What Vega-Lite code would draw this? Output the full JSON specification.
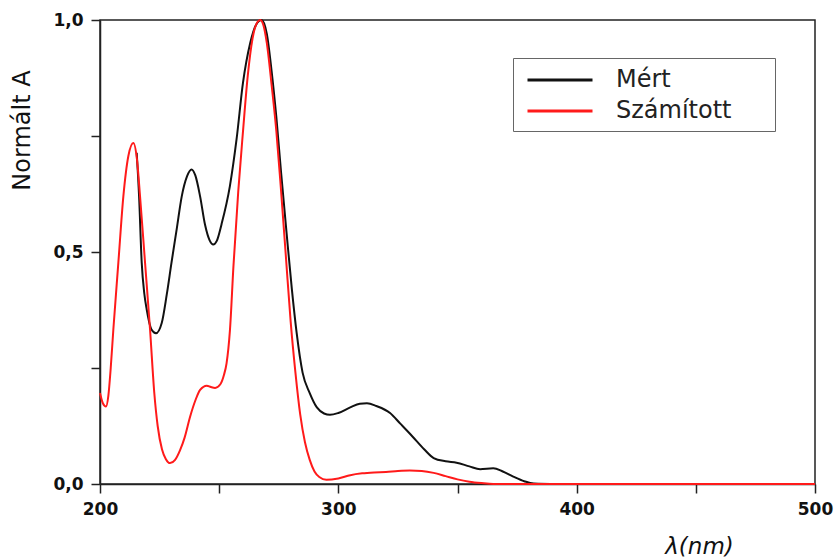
{
  "$schema": "https://vega.github.io/schema/vega-lite/v6.json",
  "width": 715,
  "height": 464,
  "autosize": {"type": "none"},
  "padding": {"left": 100, "top": 20, "right": 20, "bottom": 74},
  "background": "white",
  "config": {"view": {"stroke": "#222222", "strokeWidth": 1.5}, "font": "DejaVu Sans"},
  "data": {
    "values": [
      {"series": "Mért", "nm": 215.4, "A": 0.714},
      {"series": "Mért", "nm": 216.4, "A": 0.62},
      {"series": "Mért", "nm": 217.5, "A": 0.477},
      {"series": "Mért", "nm": 218.6, "A": 0.41},
      {"series": "Mért", "nm": 219.6, "A": 0.376},
      {"series": "Mért", "nm": 221.6, "A": 0.333},
      {"series": "Mért", "nm": 223.5, "A": 0.325},
      {"series": "Mért", "nm": 225.9, "A": 0.347},
      {"series": "Mért", "nm": 228, "A": 0.408},
      {"series": "Mért", "nm": 230, "A": 0.477},
      {"series": "Mért", "nm": 232.2, "A": 0.55},
      {"series": "Mért", "nm": 234.3, "A": 0.62},
      {"series": "Mért", "nm": 236.5, "A": 0.663},
      {"series": "Mért", "nm": 238.4, "A": 0.678},
      {"series": "Mért", "nm": 240, "A": 0.665},
      {"series": "Mért", "nm": 242, "A": 0.62},
      {"series": "Mért", "nm": 244.1, "A": 0.558},
      {"series": "Mért", "nm": 246, "A": 0.525},
      {"series": "Mért", "nm": 247.5, "A": 0.516},
      {"series": "Mért", "nm": 249, "A": 0.524},
      {"series": "Mért", "nm": 251, "A": 0.56},
      {"series": "Mért", "nm": 254.5, "A": 0.642},
      {"series": "Mért", "nm": 257.3, "A": 0.743},
      {"series": "Mért", "nm": 260, "A": 0.865},
      {"series": "Mért", "nm": 263, "A": 0.95},
      {"series": "Mért", "nm": 265.5, "A": 0.99},
      {"series": "Mért", "nm": 267.8, "A": 1.0},
      {"series": "Mért", "nm": 270, "A": 0.97},
      {"series": "Mért", "nm": 272, "A": 0.89},
      {"series": "Mért", "nm": 274, "A": 0.79},
      {"series": "Mért", "nm": 276, "A": 0.67},
      {"series": "Mért", "nm": 278.3, "A": 0.54},
      {"series": "Mért", "nm": 280.5, "A": 0.42},
      {"series": "Mért", "nm": 282.5, "A": 0.326},
      {"series": "Mért", "nm": 285, "A": 0.24},
      {"series": "Mért", "nm": 288, "A": 0.196},
      {"series": "Mért", "nm": 291, "A": 0.165},
      {"series": "Mért", "nm": 294, "A": 0.152},
      {"series": "Mért", "nm": 296.5, "A": 0.149},
      {"series": "Mért", "nm": 300, "A": 0.153},
      {"series": "Mért", "nm": 305, "A": 0.165},
      {"series": "Mért", "nm": 309, "A": 0.173},
      {"series": "Mért", "nm": 312, "A": 0.174},
      {"series": "Mért", "nm": 316, "A": 0.168},
      {"series": "Mért", "nm": 321.7, "A": 0.153},
      {"series": "Mért", "nm": 326, "A": 0.13},
      {"series": "Mért", "nm": 331, "A": 0.103},
      {"series": "Mért", "nm": 336, "A": 0.075},
      {"series": "Mért", "nm": 340, "A": 0.056},
      {"series": "Mért", "nm": 345, "A": 0.049},
      {"series": "Mért", "nm": 349.6, "A": 0.046},
      {"series": "Mért", "nm": 355, "A": 0.038},
      {"series": "Mért", "nm": 359.5, "A": 0.032},
      {"series": "Mért", "nm": 365, "A": 0.034},
      {"series": "Mért", "nm": 369, "A": 0.027},
      {"series": "Mért", "nm": 373.4, "A": 0.016},
      {"series": "Mért", "nm": 378, "A": 0.006},
      {"series": "Mért", "nm": 382, "A": 0.001},
      {"series": "Mért", "nm": 392, "A": 0.0},
      {"series": "Számított", "nm": 200, "A": 0.196},
      {"series": "Számított", "nm": 201.2, "A": 0.174},
      {"series": "Számított", "nm": 202.5, "A": 0.167},
      {"series": "Számított", "nm": 203.5, "A": 0.19},
      {"series": "Számított", "nm": 204.5, "A": 0.25},
      {"series": "Számított", "nm": 205.6, "A": 0.333},
      {"series": "Számított", "nm": 207.7, "A": 0.477},
      {"series": "Számított", "nm": 209.8, "A": 0.62},
      {"series": "Számított", "nm": 211.9, "A": 0.707},
      {"series": "Számított", "nm": 214, "A": 0.735},
      {"series": "Számított", "nm": 215.5, "A": 0.7},
      {"series": "Számított", "nm": 216.8, "A": 0.62},
      {"series": "Számított", "nm": 218.9, "A": 0.477},
      {"series": "Számított", "nm": 221, "A": 0.333},
      {"series": "Számított", "nm": 222.8, "A": 0.195},
      {"series": "Számított", "nm": 224.2, "A": 0.125},
      {"series": "Számított", "nm": 226, "A": 0.075},
      {"series": "Számított", "nm": 227.6, "A": 0.054},
      {"series": "Számított", "nm": 229.4, "A": 0.045},
      {"series": "Számított", "nm": 231.5, "A": 0.052},
      {"series": "Számított", "nm": 233.6, "A": 0.073},
      {"series": "Számított", "nm": 235.5, "A": 0.1},
      {"series": "Számított", "nm": 237.8, "A": 0.145},
      {"series": "Számított", "nm": 240, "A": 0.18},
      {"series": "Számított", "nm": 242, "A": 0.203},
      {"series": "Számított", "nm": 244.8, "A": 0.212},
      {"series": "Számított", "nm": 246.5, "A": 0.209},
      {"series": "Számított", "nm": 248.3, "A": 0.207},
      {"series": "Számított", "nm": 250.5, "A": 0.215},
      {"series": "Számított", "nm": 252, "A": 0.235},
      {"series": "Számított", "nm": 253.1, "A": 0.26},
      {"series": "Számított", "nm": 254.5, "A": 0.33},
      {"series": "Számított", "nm": 256, "A": 0.47},
      {"series": "Számított", "nm": 258, "A": 0.63},
      {"series": "Számított", "nm": 260, "A": 0.76},
      {"series": "Számított", "nm": 262, "A": 0.88},
      {"series": "Számított", "nm": 264, "A": 0.96},
      {"series": "Számított", "nm": 266, "A": 0.995},
      {"series": "Számított", "nm": 267.2, "A": 1.0},
      {"series": "Számított", "nm": 268.5, "A": 0.99},
      {"series": "Számított", "nm": 270, "A": 0.95},
      {"series": "Számított", "nm": 272, "A": 0.86},
      {"series": "Számított", "nm": 274, "A": 0.76},
      {"series": "Számított", "nm": 276, "A": 0.63},
      {"series": "Számított", "nm": 278, "A": 0.49},
      {"series": "Számított", "nm": 280, "A": 0.35},
      {"series": "Számított", "nm": 282, "A": 0.24},
      {"series": "Számított", "nm": 284, "A": 0.15},
      {"series": "Számított", "nm": 286, "A": 0.09},
      {"series": "Számított", "nm": 288, "A": 0.052},
      {"series": "Számított", "nm": 290, "A": 0.027},
      {"series": "Számított", "nm": 292, "A": 0.015},
      {"series": "Számított", "nm": 295, "A": 0.009},
      {"series": "Számított", "nm": 300, "A": 0.012},
      {"series": "Számított", "nm": 305, "A": 0.019},
      {"series": "Számított", "nm": 310, "A": 0.023},
      {"series": "Számított", "nm": 315, "A": 0.025},
      {"series": "Számított", "nm": 320, "A": 0.026},
      {"series": "Számított", "nm": 325, "A": 0.028},
      {"series": "Számított", "nm": 330, "A": 0.029},
      {"series": "Számított", "nm": 335, "A": 0.028},
      {"series": "Számított", "nm": 340, "A": 0.024},
      {"series": "Számított", "nm": 345, "A": 0.017},
      {"series": "Számított", "nm": 350, "A": 0.01},
      {"series": "Számított", "nm": 355, "A": 0.005},
      {"series": "Számított", "nm": 360, "A": 0.002},
      {"series": "Számított", "nm": 365, "A": 0.0},
      {"series": "Számított", "nm": 400, "A": 0.0},
      {"series": "Számított", "nm": 450, "A": 0.0},
      {"series": "Számított", "nm": 500, "A": 0.0}
    ]
  },
  "mark": {"type": "line", "strokeWidth": 2, "interpolate": "monotone"},
  "encoding": {
    "x": {
      "field": "nm", "type": "quantitative",
      "scale": {"domain": [200, 500], "nice": false, "zero": false},
      "axis": {
        "orient": "bottom",
        "values": [200, 250, 300, 350, 400, 450, 500],
        "labelExpr": "datum.value % 100 == 0 ? datum.label : ''",
        "format": "d",
        "grid": false,
        "domainColor": "#222222", "domainWidth": 1.5,
        "tickColor": "#222222", "tickWidth": 1.5, "tickSize": 9,
        "labelFont": "DejaVu Sans", "labelFontWeight": "bold", "labelFontSize": 17,
        "labelColor": "#111111", "labelPadding": 8, "labelFlush": false,
        "title": "λ(nm)",
        "titleFont": "DejaVu Sans", "titleFontStyle": "italic", "titleFontWeight": "normal",
        "titleFontSize": 23, "titleColor": "#111111",
        "titleAlign": "center", "titleBaseline": "middle", "titleAngle": 0,
        "titleX": 599, "titleY": 62,
        "encode": {"ticks": {"update": {"y2": {"signal": "datum.value % 100 == 0 ? 9 : 5"}}}}
      }
    },
    "y": {
      "field": "A", "type": "quantitative",
      "scale": {"domain": [0, 1], "nice": false},
      "axis": {
        "orient": "left",
        "values": [0, 0.25, 0.5, 0.75, 1],
        "labelExpr": "(datum.value == 0.25 || datum.value == 0.75) ? '' : replace(format(datum.value, '.1f'), '.', ',')",
        "grid": false,
        "domainColor": "#222222", "domainWidth": 1.5,
        "tickColor": "#222222", "tickWidth": 1.5, "tickSize": 9,
        "labelFont": "DejaVu Sans", "labelFontWeight": "bold", "labelFontSize": 17,
        "labelColor": "#111111", "labelPadding": 8, "labelFlush": false,
        "title": "Normált A",
        "titleFont": "DejaVu Sans", "titleFontWeight": "normal", "titleFontSize": 24,
        "titleColor": "#111111",
        "titleAngle": -90, "titleAlign": "center", "titleBaseline": "middle",
        "titleX": -78, "titleY": 110,
        "encode": {"ticks": {"update": {"x2": {"signal": "(datum.value == 0.25 || datum.value == 0.75) ? -5 : -9"}}}}
      }
    },
    "color": {
      "field": "series", "type": "nominal",
      "scale": {"domain": ["Mért", "Számított"], "range": ["#111111", "#ff1a1a"]},
      "legend": {
        "title": null,
        "orient": "none", "legendX": 413, "legendY": 38,
        "strokeColor": "#666666", "fillColor": "white", "padding": 8,
        "symbolType": "M-2.6,0H2.6", "symbolSize": 625, "symbolStrokeWidth": 3,
        "symbolOffset": 25,
        "labelFont": "DejaVu Sans", "labelFontSize": 24, "labelColor": "#222222",
        "labelOffset": 42, "rowPadding": 5, "labelLimit": 400,
        "labelExpr": "datum.label + '\u2800\u2800'"
      }
    }
  }
}
